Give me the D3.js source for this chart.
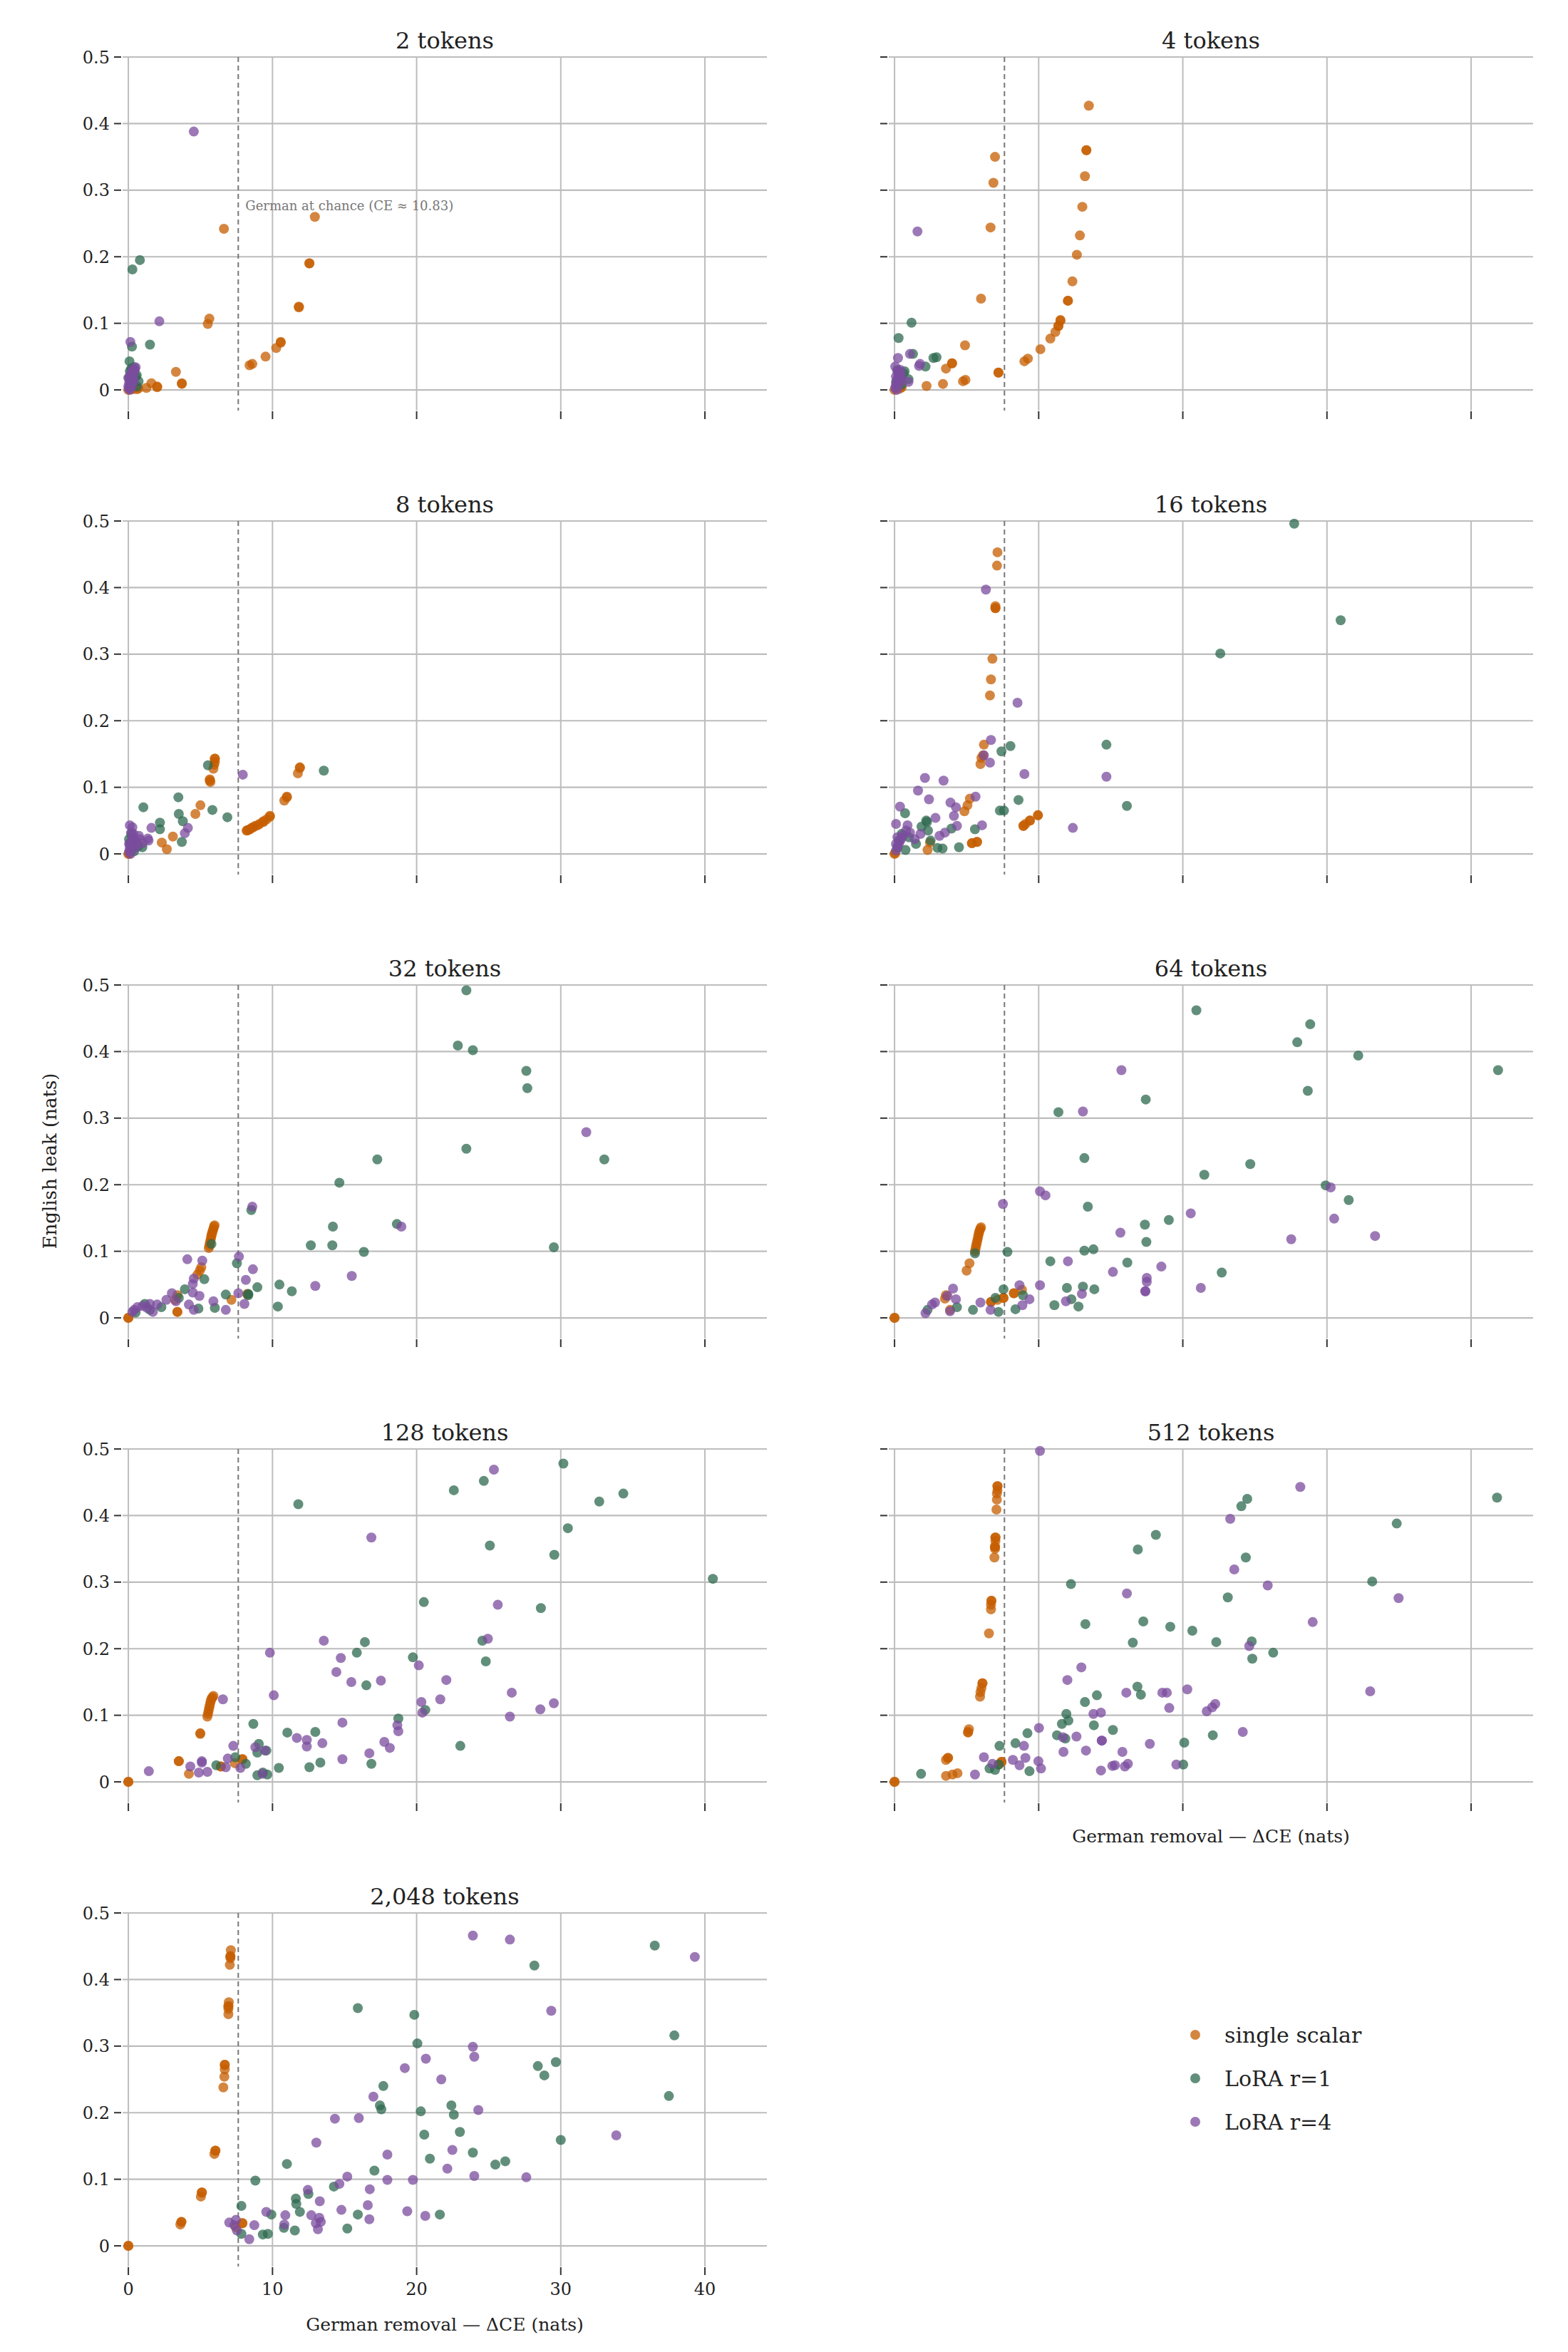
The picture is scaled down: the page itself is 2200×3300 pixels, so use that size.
<!DOCTYPE html>
<html>
<head>
<meta charset="utf-8">
<script src="https://cdn.jsdelivr.net/npm/d3@7"></script>
<style>
  html, body { margin: 0; padding: 0; background: #fff; }
  svg { display: block; }
  text { font-family: "DejaVu Serif", serif; }
</style>
</head>
<body>
<svg id="chart" width="2200" height="3300"></svg>
<script>
// ---------------- DATA ----------------
const panelTitles = ["2 tokens", "4 tokens", "8 tokens", "16 tokens", "32 tokens", "64 tokens", "128 tokens", "512 tokens", "2,048 tokens"];
const seriesNames = ["single scalar", "LoRA r=1", "LoRA r=4"];
const xTicks = [0, 10, 20, 30, 40];
const xTickLabels = ["0", "10", "20", "30", "40"];
const yTicks = [0, 0.1, 0.2, 0.3, 0.4, 0.5];
const yTickLabels = ["0", "0.1", "0.2", "0.3", "0.4", "0.5"];
const chanceX = 7.625;
const chanceLabel = "German at chance (CE \u2248 10.83)";
const chanceLabelY = 0.27;

// 2 tokens
const scalar_2 = [[0,0],[0.3,0.001],[0.58,0.001],[0.7,0.002],[1.25,0.003],[1.6,0.01],[2.0,0.004],[2.0,0.005],[3.3,0.027],[3.71,0.009],[3.71,0.01],[5.51,0.099],[5.62,0.107],[6.63,0.242],[8.41,0.037],[8.6,0.039],[9.52,0.05],[10.26,0.063],[10.57,0.071],[10.57,0.072],[11.83,0.125],[11.83,0.124],[12.56,0.19],[12.56,0.19],[12.94,0.26]];
const loraR1_2 = [[0.28,0.181],[0.8,0.195],[1.5,0.068],[0.25,0.065],[0.08,0.043],[0.38,0.034],[0.58,0.022],[0.71,0.013],[0.1,0.028],[0.2,0.032],[0.5,0.02],[0.05,0.018],[0.3,0.008],[0.15,0.012],[0.6,0.005],[0.4,0.03]];
const loraR4_2 = [[4.54,0.388],[2.15,0.103],[0.14,0.072],[0.05,0.002],[0.1,0.005],[0.15,0.008],[0.2,0.012],[0.25,0.016],[0.3,0.02],[0.35,0.024],[0.4,0.028],[0.45,0.031],[0.5,0.034],[0.05,0.01],[0.1,0.016],[0.15,0.022],[0.2,0.026],[0.3,0.03],[0.0,0.005],[0.1,0.0],[0.25,0.006],[0.4,0.014],[0.0,0.018]];

// 4 tokens
const scalar_4 = [[0,0],[0.38,0.002],[0.5,0.004],[2.22,0.006],[3.36,0.009],[3.57,0.032],[3.99,0.04],[3.99,0.04],[4.75,0.013],[4.92,0.015],[4.89,0.067],[6.0,0.137],[6.66,0.244],[6.86,0.311],[6.97,0.35],[7.21,0.026],[7.21,0.026],[9.01,0.043],[9.25,0.047],[10.12,0.061],[10.81,0.077],[11.16,0.087],[11.37,0.096],[11.37,0.096],[11.51,0.105],[11.51,0.104],[12.03,0.134],[12.03,0.134],[12.34,0.163],[12.65,0.203],[12.86,0.232],[13.03,0.275],[13.21,0.321],[13.31,0.36],[13.31,0.36],[13.48,0.427]];
const loraR1_4 = [[1.18,0.101],[0.28,0.078],[1.28,0.054],[2.7,0.048],[2.91,0.049],[2.15,0.035],[0.62,0.025],[0.97,0.016],[0.2,0.03],[0.4,0.02],[0.1,0.012],[0.5,0.008],[0.3,0.015],[0.7,0.028]];
const loraR4_4 = [[1.59,0.238],[1.07,0.054],[0.24,0.048],[1.77,0.039],[1.7,0.036],[0.97,0.012],[0.05,0.003],[0.1,0.007],[0.15,0.011],[0.2,0.015],[0.25,0.019],[0.3,0.023],[0.35,0.027],[0.4,0.03],[0.1,0.02],[0.2,0.028],[0.05,0.035],[0.3,0.008],[0.45,0.016],[0.15,0.0],[0.5,0.02]];

// 8 tokens
const scalar_8 = [[0,0],[0.05,0.0],[2.32,0.017],[2.67,0.007],[3.09,0.026],[4.65,0.06],[5.0,0.073],[5.65,0.112],[5.65,0.11],[5.69,0.108],[5.9,0.128],[5.95,0.134],[6.0,0.138],[6.0,0.143],[6.0,0.143],[8.22,0.035],[8.22,0.035],[8.35,0.036],[8.43,0.037],[8.55,0.039],[8.67,0.04],[8.8,0.042],[8.98,0.043],[9.1,0.045],[9.37,0.049],[9.37,0.048],[9.6,0.052],[9.82,0.057],[9.82,0.056],[10.82,0.08],[11.0,0.086],[11.0,0.085],[11.76,0.121],[11.9,0.13],[11.9,0.129]];
const loraR1_8 = [[13.56,0.125],[5.52,0.133],[1.04,0.07],[3.47,0.085],[3.5,0.06],[5.83,0.066],[6.87,0.055],[2.19,0.047],[3.78,0.049],[2.19,0.037],[3.71,0.018],[0.97,0.01],[0.1,0.015],[0.3,0.008],[0.5,0.02],[0.2,0.03],[0.7,0.012],[0.4,0.004],[0.05,0.022]];
const loraR4_8 = [[7.94,0.119],[1.6,0.039],[4.13,0.039],[3.92,0.031],[1.35,0.023],[0.73,0.027],[0.1,0.043],[0.28,0.04],[1.4,0.02],[0.05,0.003],[0.1,0.008],[0.15,0.012],[0.2,0.017],[0.25,0.021],[0.3,0.025],[0.35,0.03],[0.45,0.018],[0.6,0.014],[0.8,0.022],[1.0,0.016],[0.2,0.032],[0.5,0.009],[0.15,0.0],[0.05,0.015]];

// 16 tokens
const scalar_16 = [[0,0],[0.05,0.001],[2.29,0.006],[2.46,0.017],[4.85,0.064],[5.06,0.073],[5.23,0.083],[5.37,0.016],[5.37,0.016],[5.72,0.018],[5.72,0.018],[5.96,0.135],[6.03,0.144],[6.14,0.148],[6.2,0.164],[6.62,0.238],[6.69,0.262],[6.79,0.293],[7.0,0.369],[7.0,0.372],[7.0,0.369],[7.11,0.433],[7.14,0.453],[8.94,0.042],[8.94,0.042],[9.08,0.045],[9.39,0.05],[9.39,0.05],[9.95,0.058],[9.95,0.058]];
const loraR1_16 = [[27.73,0.496],[30.95,0.351],[22.6,0.301],[14.7,0.164],[16.12,0.072],[8.04,0.162],[7.42,0.154],[8.6,0.081],[7.31,0.065],[7.59,0.065],[5.58,0.037],[4.47,0.01],[3.95,0.038],[2.25,0.048],[2.32,0.035],[0.73,0.061],[3.33,0.008],[2.98,0.009],[0.76,0.006],[1.87,0.041],[1.49,0.015],[2.2,0.05],[0.3,0.02],[0.5,0.03],[1.0,0.025],[2.5,0.02],[0.2,0.01]];
const loraR4_16 = [[6.34,0.397],[8.53,0.227],[6.69,0.171],[6.2,0.148],[6.62,0.137],[9.01,0.12],[14.7,0.116],[12.37,0.039],[2.11,0.114],[3.4,0.11],[1.63,0.095],[2.39,0.082],[0.38,0.071],[3.88,0.077],[4.26,0.07],[4.12,0.057],[5.62,0.086],[2.84,0.054],[4.33,0.042],[6.07,0.043],[3.5,0.032],[3.12,0.027],[0.1,0.045],[0.9,0.043],[1.07,0.032],[0.1,0.005],[0.2,0.01],[0.3,0.015],[0.4,0.02],[0.5,0.024],[0.6,0.028],[0.2,0.025],[1.4,0.022],[1.8,0.03],[0.1,0.015],[0.8,0.035]];

// 32 tokens
const scalar_32 = [[0,0],[0,0],[3.4,0.009],[3.4,0.009],[3.23,0.027],[3.4,0.034],[4.79,0.065],[4.96,0.071],[5.06,0.076],[5.58,0.105],[5.62,0.108],[5.65,0.112],[5.68,0.115],[5.72,0.118],[5.75,0.122],[5.78,0.125],[5.82,0.128],[5.86,0.131],[5.9,0.134],[5.94,0.137],[5.98,0.139],[7.15,0.027],[8.26,0.036],[8.26,0.035]];
const loraR1_32 = [[23.45,0.492],[22.86,0.409],[23.9,0.402],[27.61,0.371],[27.68,0.345],[23.45,0.254],[17.27,0.238],[33.02,0.238],[14.64,0.203],[14.19,0.137],[18.63,0.141],[29.52,0.106],[12.66,0.109],[14.15,0.109],[16.34,0.099],[10.48,0.05],[11.34,0.04],[10.37,0.017],[8.95,0.046],[7.53,0.082],[8.53,0.162],[5.76,0.111],[5.27,0.058],[6.76,0.035],[6.0,0.015],[8.32,0.034],[8.32,0.036],[3.92,0.043],[4.86,0.014],[2.29,0.016],[1.14,0.021],[3.5,0.03],[0.5,0.008],[1.5,0.012]];
const loraR4_32 = [[31.77,0.279],[18.94,0.137],[15.5,0.063],[12.97,0.048],[8.6,0.167],[7.67,0.092],[8.64,0.073],[8.15,0.057],[5.13,0.086],[4.09,0.088],[4.54,0.059],[4.47,0.051],[4.93,0.033],[4.47,0.038],[3.02,0.037],[2.64,0.027],[5.9,0.025],[6.76,0.012],[8.05,0.021],[7.63,0.037],[4.54,0.012],[1.49,0.021],[0.62,0.016],[0.28,0.009],[1.7,0.009],[1.0,0.018],[1.3,0.015],[0.4,0.012],[2.0,0.02],[3.3,0.025],[4.2,0.02]];

// 64 tokens
const scalar_64 = [[0,0],[0,0],[3.5,0.029],[3.57,0.034],[3.85,0.012],[5.0,0.071],[5.2,0.082],[5.58,0.1],[5.62,0.104],[5.66,0.108],[5.7,0.112],[5.74,0.116],[5.78,0.12],[5.82,0.124],[5.86,0.128],[5.9,0.131],[5.95,0.134],[6.0,0.136],[6.69,0.024],[6.69,0.024],[7.14,0.027],[7.56,0.03],[7.56,0.03],[8.28,0.037],[8.28,0.037],[8.84,0.042]];
const loraR1_64 = [[20.94,0.462],[28.84,0.441],[27.94,0.414],[32.17,0.394],[41.87,0.372],[28.67,0.341],[17.43,0.328],[11.37,0.309],[13.17,0.24],[24.68,0.231],[21.49,0.215],[29.91,0.199],[31.51,0.177],[13.41,0.167],[19.03,0.147],[17.37,0.14],[17.47,0.114],[13.17,0.101],[13.8,0.103],[10.81,0.085],[16.15,0.083],[22.7,0.068],[11.96,0.045],[13.07,0.047],[13.86,0.043],[12.27,0.028],[11.09,0.019],[12.76,0.017],[7.83,0.099],[5.58,0.097],[7.56,0.043],[7.0,0.03],[8.39,0.013],[7.21,0.009],[8.91,0.034],[5.44,0.012],[4.33,0.016],[2.29,0.012]];
const loraR4_64 = [[15.74,0.372],[13.07,0.31],[10.09,0.19],[10.47,0.184],[7.52,0.171],[30.26,0.196],[20.55,0.157],[30.5,0.149],[27.52,0.118],[33.34,0.123],[15.67,0.128],[12.03,0.085],[18.51,0.077],[15.15,0.069],[17.5,0.06],[17.5,0.054],[17.4,0.04],[17.4,0.04],[21.25,0.045],[10.09,0.049],[8.67,0.049],[13.0,0.036],[11.89,0.025],[9.36,0.028],[8.87,0.019],[6.66,0.012],[5.96,0.023],[4.06,0.044],[4.26,0.028],[3.67,0.033],[2.81,0.023],[2.6,0.02],[2.15,0.007],[3.85,0.01]];

// 128 tokens
const scalar_128 = [[0,0],[0,0],[3.5,0.031],[3.5,0.031],[4.2,0.012],[4.99,0.073],[4.99,0.072],[5.48,0.098],[5.52,0.102],[5.56,0.106],[5.6,0.11],[5.64,0.114],[5.68,0.118],[5.72,0.122],[5.78,0.125],[5.84,0.127],[5.9,0.129],[6.42,0.023],[6.42,0.023],[7.39,0.028],[7.91,0.034],[7.91,0.034]];
const loraR1_128 = [[30.18,0.478],[24.66,0.452],[22.58,0.438],[34.34,0.433],[32.67,0.421],[11.79,0.417],[30.49,0.381],[25.08,0.355],[29.55,0.341],[40.55,0.305],[20.5,0.27],[28.62,0.261],[16.41,0.21],[24.56,0.212],[15.85,0.194],[19.74,0.187],[24.8,0.181],[16.51,0.145],[20.6,0.108],[18.73,0.095],[23.03,0.054],[12.97,0.075],[11.03,0.074],[8.67,0.087],[9.05,0.057],[8.95,0.044],[9.57,0.047],[13.32,0.029],[16.86,0.027],[12.56,0.022],[10.44,0.021],[9.64,0.011],[8.95,0.01],[9.33,0.014],[8.15,0.027],[7.42,0.037],[6.1,0.025]];
const loraR4_128 = [[25.36,0.469],[16.86,0.367],[25.63,0.266],[13.56,0.212],[24.94,0.215],[9.82,0.194],[14.74,0.186],[20.15,0.175],[14.43,0.165],[15.47,0.15],[17.52,0.152],[22.06,0.153],[26.6,0.134],[21.64,0.124],[20.33,0.12],[10.09,0.13],[6.56,0.124],[29.52,0.118],[28.58,0.109],[26.47,0.098],[20.4,0.104],[14.85,0.089],[18.66,0.085],[18.73,0.076],[11.69,0.066],[12.38,0.063],[13.46,0.058],[12.38,0.053],[17.76,0.06],[18.14,0.051],[16.72,0.043],[14.85,0.034],[7.28,0.054],[8.81,0.052],[9.47,0.047],[6.9,0.035],[6.76,0.022],[7.77,0.021],[9.3,0.012],[5.1,0.031],[5.1,0.029],[4.3,0.023],[4.89,0.014],[5.48,0.015],[1.42,0.016]];

// 512 tokens
const scalar_512 = [[0,0],[0,0],[3.57,0.009],[4.02,0.011],[4.37,0.013],[3.57,0.033],[3.71,0.036],[3.71,0.036],[5.1,0.074],[5.1,0.075],[5.16,0.079],[5.93,0.128],[5.96,0.135],[6.03,0.141],[6.1,0.148],[6.1,0.148],[6.55,0.223],[6.69,0.259],[6.69,0.266],[6.72,0.272],[6.72,0.272],[6.93,0.337],[6.97,0.35],[6.97,0.353],[6.97,0.353],[7.0,0.362],[7.0,0.367],[7.0,0.367],[7.07,0.409],[7.1,0.424],[7.1,0.433],[7.14,0.438],[7.14,0.444],[7.14,0.444],[7.21,0.026],[7.42,0.03],[7.42,0.03]];
const loraR1_512 = [[41.8,0.427],[24.47,0.425],[24.06,0.414],[34.84,0.388],[18.13,0.371],[16.88,0.349],[24.37,0.337],[33.14,0.301],[12.24,0.297],[23.12,0.277],[17.26,0.241],[13.24,0.237],[19.13,0.233],[20.66,0.227],[16.53,0.209],[22.32,0.21],[24.78,0.211],[26.27,0.194],[24.82,0.185],[16.85,0.143],[17.09,0.131],[14.04,0.13],[13.21,0.12],[11.92,0.102],[12.06,0.092],[11.61,0.087],[13.83,0.085],[15.15,0.078],[11.27,0.07],[11.85,0.065],[9.22,0.073],[8.39,0.058],[7.28,0.054],[22.08,0.07],[20.1,0.059],[20.03,0.026],[9.36,0.016],[6.59,0.02],[6.97,0.018],[7.24,0.026],[1.84,0.012]];
const loraR4_512 = [[10.09,0.497],[28.15,0.443],[23.29,0.395],[23.57,0.319],[25.89,0.295],[16.12,0.283],[34.97,0.276],[29.01,0.24],[24.61,0.204],[12.96,0.172],[11.99,0.153],[16.08,0.134],[18.58,0.134],[18.89,0.134],[20.31,0.139],[33.0,0.136],[22.25,0.117],[22.04,0.112],[21.66,0.106],[19.06,0.111],[13.8,0.102],[14.32,0.104],[24.16,0.075],[10.02,0.081],[12.62,0.068],[11.68,0.067],[14.38,0.062],[14.38,0.062],[17.71,0.057],[11.72,0.045],[13.28,0.047],[15.81,0.045],[8.98,0.054],[9.08,0.036],[8.21,0.033],[8.67,0.025],[6.2,0.037],[6.79,0.027],[9.98,0.031],[10.16,0.02],[14.32,0.017],[15.11,0.024],[15.29,0.025],[15.98,0.023],[16.19,0.027],[19.55,0.026],[5.58,0.011]];

// 2,048 tokens
const scalar_2048 = [[0,0],[0,0],[3.61,0.032],[3.68,0.036],[3.68,0.036],[5.03,0.074],[5.1,0.08],[5.1,0.08],[5.97,0.138],[6.04,0.143],[6.04,0.143],[6.59,0.238],[6.66,0.254],[6.69,0.265],[6.69,0.272],[6.69,0.272],[6.94,0.348],[6.94,0.356],[6.94,0.36],[6.94,0.36],[6.97,0.366],[7.04,0.422],[7.08,0.432],[7.08,0.435],[7.08,0.435],[7.11,0.444],[7.46,0.028],[7.91,0.034],[7.91,0.034]];
const loraR1_2048 = [[36.52,0.451],[28.17,0.421],[15.92,0.357],[19.84,0.347],[37.88,0.316],[20.05,0.304],[28.41,0.27],[29.66,0.276],[28.86,0.256],[17.69,0.24],[37.5,0.225],[22.41,0.211],[17.45,0.211],[17.55,0.205],[20.29,0.202],[22.58,0.197],[23.0,0.171],[20.53,0.167],[30.0,0.159],[23.9,0.14],[20.92,0.131],[26.15,0.127],[25.46,0.122],[11.0,0.123],[17.07,0.113],[8.81,0.098],[14.26,0.089],[12.49,0.078],[11.62,0.071],[11.65,0.063],[7.84,0.06],[11.9,0.051],[9.92,0.047],[15.92,0.047],[21.61,0.047],[10.79,0.027],[11.55,0.023],[15.19,0.026],[9.33,0.017],[9.68,0.018],[7.84,0.018]];
const loraR4_2048 = [[23.9,0.466],[26.47,0.46],[39.3,0.434],[29.34,0.353],[23.9,0.299],[24.0,0.284],[20.64,0.281],[19.18,0.267],[21.71,0.25],[17.0,0.224],[24.28,0.204],[14.33,0.191],[15.99,0.192],[33.85,0.166],[13.04,0.155],[17.97,0.137],[22.48,0.144],[22.13,0.116],[24.0,0.105],[27.61,0.103],[15.19,0.104],[17.97,0.099],[19.74,0.099],[14.64,0.093],[12.45,0.084],[16.75,0.085],[13.28,0.067],[16.61,0.061],[14.78,0.054],[9.57,0.051],[10.89,0.046],[12.69,0.046],[13.25,0.042],[13.35,0.036],[13.01,0.034],[13.15,0.025],[10.82,0.032],[16.72,0.04],[19.35,0.052],[20.6,0.045],[7.0,0.035],[7.46,0.039],[7.35,0.031],[8.74,0.031],[8.39,0.01],[7.53,0.023]];

const scalarSeries = [scalar_2, scalar_4, scalar_8, scalar_16, scalar_32, scalar_64, scalar_128, scalar_512, scalar_2048];
const loraR1Series = [loraR1_2, loraR1_4, loraR1_8, loraR1_16, loraR1_32, loraR1_64, loraR1_128, loraR1_512, loraR1_2048];
const loraR4Series = [loraR4_2, loraR4_4, loraR4_8, loraR4_16, loraR4_32, loraR4_64, loraR4_128, loraR4_512, loraR4_2048];

// ---------------- LAYOUT / STYLE ----------------
const colors = ["#c65d00", "#2d6a4f", "#7b4c9d"];
const pointOpacity = 0.75;
const pointR = 7;
const colLeft = [172, 1247];
const plotW = 904;
const rowTop0 = 80, rowStep = 651, plotH = 496;
const gridColor = "#bdbdbd";
const textColor = "#222";

const svg = d3.select("#chart");

panelTitles.forEach((title, i) => {
  const col = i % 2, row = Math.floor(i / 2);
  const left = colLeft[col], top = rowTop0 + row * rowStep;
  const x = d3.scaleLinear().domain([-0.4, 44.3]).range([left, left + plotW]);
  const y = d3.scaleLinear().domain([-0.031, 0.5]).range([top + plotH, top]);
  const g = svg.append("g");

  // horizontal grid
  g.selectAll("line.hg").data(yTicks).join("line")
    .attr("x1", left).attr("x2", left + plotW)
    .attr("y1", d => y(d)).attr("y2", d => y(d))
    .attr("stroke", gridColor).attr("stroke-width", 2.2);
  // vertical grid
  g.selectAll("line.vg").data(xTicks).join("line")
    .attr("x1", d => x(d)).attr("x2", d => x(d))
    .attr("y1", top).attr("y2", top + plotH)
    .attr("stroke", gridColor).attr("stroke-width", 2);

  // y tick marks
  g.selectAll("line.yt").data(yTicks).join("line")
    .attr("x1", left - 12).attr("x2", left - 2)
    .attr("y1", d => y(d)).attr("y2", d => y(d))
    .attr("stroke", "#333").attr("stroke-width", 2);
  if (col === 0) {
    g.selectAll("text.yl").data(yTicks).join("text")
      .attr("x", left - 18).attr("y", d => y(d)).attr("dy", "0.36em")
      .attr("text-anchor", "end").attr("font-size", 24).attr("fill", textColor)
      .text((d, k) => yTickLabels[k]);
  }
  // x tick marks
  g.selectAll("line.xt").data(xTicks).join("line")
    .attr("x1", d => x(d)).attr("x2", d => x(d))
    .attr("y1", top + plotH + 1).attr("y2", top + plotH + 12)
    .attr("stroke", "#333").attr("stroke-width", 2);
  if (i === 8) {
    g.selectAll("text.xl").data(xTicks).join("text")
      .attr("x", d => x(d)).attr("y", top + plotH + 40)
      .attr("text-anchor", "middle").attr("font-size", 24).attr("fill", textColor)
      .text((d, k) => xTickLabels[k]);
  }
  if (i === 7 || i === 8) {
    g.append("text")
      .attr("x", left + plotW / 2).attr("y", top + plotH + (i === 8 ? 90 : 56))
      .attr("text-anchor", "middle").attr("font-size", 25).attr("fill", textColor)
      .text("German removal \u2014 \u0394CE (nats)");
  }

  // chance line
  g.append("line")
    .attr("x1", x(chanceX)).attr("x2", x(chanceX))
    .attr("y1", top).attr("y2", top + plotH)
    .attr("stroke", "#777").attr("stroke-width", 2)
    .attr("stroke-dasharray", "7,5");
  if (i === 0) {
    g.append("text")
      .attr("x", x(chanceX) + 10).attr("y", y(chanceLabelY))
      .attr("font-size", 18).attr("fill", "#777")
      .text(chanceLabel);
  }

  // title
  g.append("text")
    .attr("x", left + plotW / 2).attr("y", top - 12)
    .attr("text-anchor", "middle").attr("font-size", 32).attr("fill", textColor)
    .text(title);

  // points
  [scalarSeries[i], loraR1Series[i], loraR4Series[i]].forEach((pts, s) => {
    g.append("g").selectAll("circle").data(pts).join("circle")
      .attr("cx", d => x(d[0])).attr("cy", d => y(d[1]))
      .attr("r", pointR)
      .attr("fill", colors[s]).attr("fill-opacity", pointOpacity);
  });
});

// y axis label
svg.append("text")
  .attr("transform", "translate(79,1629) rotate(-90)")
  .attr("text-anchor", "middle").attr("font-size", 26).attr("fill", textColor)
  .text("English leak (nats)");

// legend
const legend = svg.append("g");
seriesNames.forEach((name, s) => {
  const cy = 2855 + s * 61;
  legend.append("circle").attr("cx", 1677).attr("cy", cy).attr("r", 7)
    .attr("fill", colors[s]).attr("fill-opacity", pointOpacity);
  legend.append("text").attr("x", 1718).attr("y", cy + 11)
    .attr("font-size", 30).attr("fill", textColor).text(name);
});
</script>
</body>
</html>
